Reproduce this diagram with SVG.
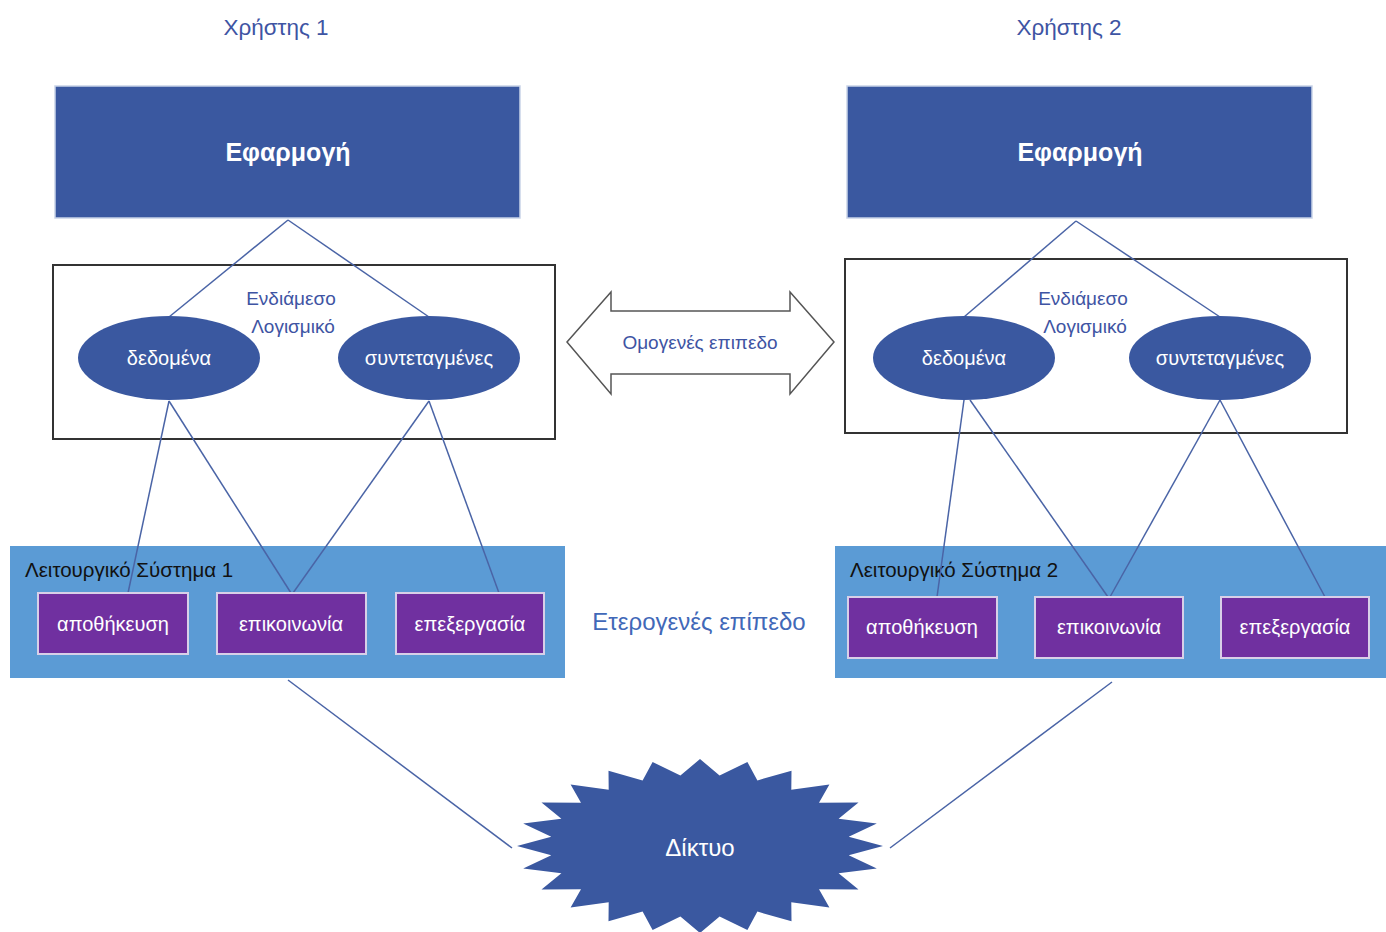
<svg xmlns="http://www.w3.org/2000/svg" width="1386" height="932" viewBox="0 0 1386 932">
<style>
text{font-family:"Liberation Sans","DejaVu Sans",sans-serif;}
.app{fill:#3A58A0;stroke:#C9D3E8;stroke-width:1.5;}
.appt{fill:#fff;font-size:25px;font-weight:bold;text-anchor:middle;}
.mw{fill:#fff;stroke:#333;stroke-width:2;}
.ell{fill:#3A58A0;}
.ellt{fill:#fff;font-size:20px;text-anchor:middle;}
.lab{fill:#3E54A3;font-size:19px;text-anchor:middle;}
.os{fill:#5B9BD5;}
.ost{fill:#111;font-size:20.5px;}
.svc{fill:#7030A0;stroke:#D8D0E8;stroke-width:2;}
.svct{fill:#fff;font-size:20px;text-anchor:middle;}
.ln{stroke:#4A64A6;stroke-width:1.5;fill:none;}
</style>

<g id="user1"><text class="lab" x="276" y="35" style="font-size:22.5px">Χρήστης 1</text></g>
<g id="user2"><text class="lab" x="1069" y="35" style="font-size:22.5px">Χρήστης 2</text></g>

<g id="app1"><rect class="app" x="55" y="86" width="465" height="132"/><text class="appt" x="288" y="161">Εφαρμογή</text></g>
<g id="app2"><rect class="app" x="847" y="86" width="465" height="132"/><text class="appt" x="1080" y="161">Εφαρμογή</text></g>

<g id="middleware1"><rect class="mw" x="53" y="265" width="502" height="174"/>
<text class="lab" x="291" y="305">Ενδιάμεσο</text><text class="lab" x="293" y="333">Λογισμικό</text></g>
<g id="middleware2"><rect class="mw" x="845" y="259" width="502" height="174"/>
<text class="lab" x="1083" y="305">Ενδιάμεσο</text><text class="lab" x="1085" y="333">Λογισμικό</text></g>

<g id="os1"><rect class="os" x="10" y="546" width="555" height="132"/><text class="ost" x="25" y="577">Λειτουργικό Σύστημα 1</text></g>
<g id="os2"><rect class="os" x="835" y="546" width="551" height="132"/><text class="ost" x="850" y="577">Λειτουργικό Σύστημα 2</text></g>

<g id="connectors">
<line class="ln" x1="288" y1="220" x2="169" y2="317"/>
<line class="ln" x1="288" y1="220" x2="429" y2="317"/>
<line class="ln" x1="1076" y1="221" x2="964" y2="317"/>
<line class="ln" x1="1076" y1="221" x2="1220" y2="317"/>
<line class="ln" x1="169" y1="401" x2="128" y2="593"/>
<line class="ln" x1="169" y1="401" x2="291" y2="593"/>
<line class="ln" x1="429" y1="401" x2="293" y2="593"/>
<line class="ln" x1="429" y1="401" x2="499" y2="593"/>
<line class="ln" x1="964" y1="400" x2="937" y2="597"/>
<line class="ln" x1="970" y1="400" x2="1108" y2="597"/>
<line class="ln" x1="1220" y1="400" x2="1110" y2="597"/>
<line class="ln" x1="1220" y1="400" x2="1325" y2="597"/>
<line class="ln" x1="288" y1="680" x2="512" y2="848"/>
<line class="ln" x1="1112" y1="682" x2="890" y2="848"/>
</g>

<g id="data1"><ellipse class="ell" cx="169" cy="358" rx="91" ry="42"/><text class="ellt" x="169" y="365">δεδομένα</text></g>
<g id="coord1"><ellipse class="ell" cx="429" cy="358" rx="91" ry="42"/><text class="ellt" x="429" y="365">συντεταγμένες</text></g>
<g id="data2"><ellipse class="ell" cx="964" cy="358" rx="91" ry="42"/><text class="ellt" x="964" y="365">δεδομένα</text></g>
<g id="coord2"><ellipse class="ell" cx="1220" cy="358" rx="91" ry="42"/><text class="ellt" x="1220" y="365">συντεταγμένες</text></g>

<g id="homogeneous">
<path d="M567,342 L611,292 L611,311 L790,311 L790,292 L834,342 L790,394 L790,374 L611,374 L611,394 Z" fill="#fff" stroke="#555" stroke-width="1.5"/>
<text x="700" y="349" font-size="19" fill="#3E54A3" text-anchor="middle">Ομογενές επιπεδο</text>
</g>

<g id="storage1"><rect class="svc" x="38" y="593" width="150" height="61"/><text class="svct" x="113" y="631">αποθήκευση</text></g>
<g id="comm1"><rect class="svc" x="217" y="593" width="149" height="61"/><text class="svct" x="291" y="631">επικοινωνία</text></g>
<g id="proc1"><rect class="svc" x="396" y="593" width="148" height="61"/><text class="svct" x="470" y="631">επεξεργασία</text></g>
<g id="storage2"><rect class="svc" x="848" y="597" width="149" height="61"/><text class="svct" x="922" y="634">αποθήκευση</text></g>
<g id="comm2"><rect class="svc" x="1035" y="597" width="148" height="61"/><text class="svct" x="1109" y="634">επικοινωνία</text></g>
<g id="proc2"><rect class="svc" x="1221" y="597" width="148" height="61"/><text class="svct" x="1295" y="634">επεξεργασία</text></g>

<g id="heterogeneous"><text x="699" y="630" font-size="24" fill="#4168B8" text-anchor="middle">Ετερογενές επίπεδο</text></g>

<g id="network">
<polygon fill="#3A58A0" points="700,759 719.6,775.6 747.4,762 757.4,780.4 791.5,770.7 791.3,789.7 829.4,784.5 819,802.8 858.5,802.5 838.6,818.8 876.8,823.5 848.7,836.7 883,846 848.7,855.3 876.8,868.5 838.6,873.2 858.5,889.5 819,889.2 829.4,907.5 791.3,902.3 791.5,921.3 757.4,911.6 747.4,930 719.6,916.4 700,933 680.4,916.4 652.6,930 642.6,911.6 608.5,921.3 608.7,902.3 570.6,907.5 581,889.2 541.5,889.5 561.4,873.2 523.2,868.5 551.3,855.3 517,846 551.3,836.7 523.2,823.5 561.4,818.8 541.5,802.5 581,802.8 570.6,784.5 608.7,789.7 608.5,770.7 642.6,780.4 652.6,762 680.4,775.6"/>
<text x="700" y="856" font-size="24" fill="#fff" text-anchor="middle">Δίκτυο</text>
</g>
</svg>
